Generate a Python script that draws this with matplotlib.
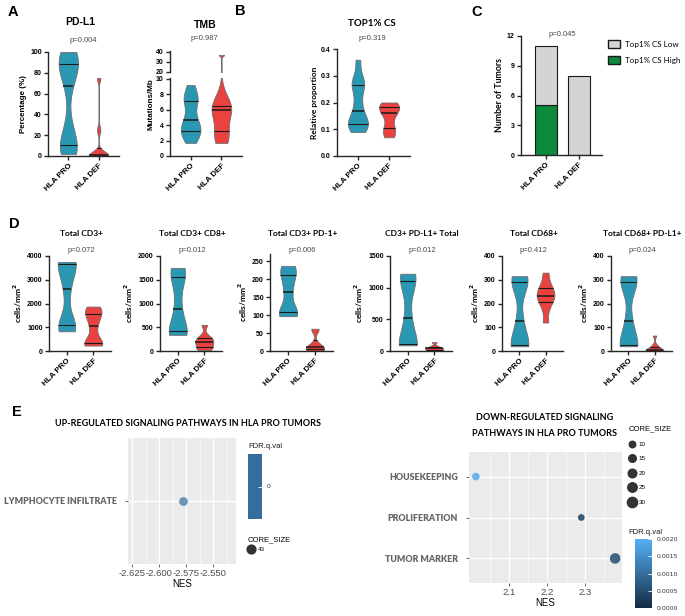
import numpy as np
import matplotlib
matplotlib.use("Agg")
import matplotlib.pyplot as plt
from matplotlib import cbook, mlab
from matplotlib.colors import LinearSegmentedColormap, Normalize
from matplotlib.cm import ScalarMappable
from matplotlib.patches import Patch
from matplotlib.lines import Line2D

groups = ["HLA PRO", "HLA DEF"]

# panel A
pdl1_pro = [2, 6, 10, 12, 30, 67, 82, 87, 90, 96, 100]
pdl1_def = [0, 0, 0, 0, 1, 2, 25, 75]
tmb_pro = [1.7, 2.5, 3.2, 3.4, 3.8, 4.6, 5.5, 7.0, 7.3, 8.0, 9.2]
tmb_def = [1.7, 2.5, 3.5, 5.8, 6.0, 6.1, 7.5, 37]

# panel B
top1_pro = [0.09, 0.11, 0.12, 0.12, 0.14, 0.17, 0.21, 0.26, 0.27, 0.29, 0.36]
top1_def = [0.07, 0.09, 0.11, 0.15, 0.17, 0.18, 0.19, 0.20]

# panel C
cs_high = [5, 0]
cs_low = [6, 8]

# panel D
d_titles = ["Total CD3+", "Total CD3+ CD8+", "Total CD3+ PD-1+",
            "CD3+ PD-L1+ Total", "Total CD68+", "Total CD68+ PD-L1+"]
d_pvals = ["p=0.072", "p=0.012", "p=0.006", "p=0.012", "p=0.412", "p=0.024"]
d_pro = [[830, 1050, 1100, 2620, 3600, 3700, 3750],
         [340, 400, 450, 880, 1400, 1700, 1750],
         [97, 105, 112, 163, 200, 225, 237],
         [90, 100, 130, 520, 1000, 1200, 1220],
         [20, 22, 28, 125, 280, 300, 315],
         [20, 22, 28, 125, 280, 300, 315]]
d_def = [[230, 300, 400, 1050, 1500, 1650, 1870],
         [20, 60, 100, 180, 210, 250, 320, 550],
         [0, 2, 5, 8, 12, 20, 58, 62],
         [0, 10, 25, 35, 45, 55, 80, 140],
         [120, 180, 215, 225, 240, 260, 280, 330],
         [0, 1, 2, 4, 6, 15, 25, 65]]
d_ymax = [4000, 2000, 270, 1500, 400, 400]
d_step = [1000, 500, 50, 500, 100, 100]

# panel E
up_paths = ["LYMPHOCYTE INFILTRATE"]
up_nes = [-2.578]
up_fdr = [0.0]
up_core = [43]
down_paths = ["HOUSEKEEPING", "PROLIFERATION", "TUMOR MARKER"]
down_nes = [2.013, 2.290, 2.379]
down_fdr = [0.0019, 0.0003, 0.0005]
down_core = [15, 11, 32]
size_breaks = [10, 15, 20, 25, 30]

TEAL = "#2a98b3"
RED = "#e9423f"
ARIAL = "Liberation Sans"
CALI = "Lato"

W, H = 685, 616
fig = plt.figure(figsize=(W / 100, H / 100), dpi=100)


def box(x0, y0, x1, y1):
    return fig.add_axes([x0 / W, 1 - y1 / H, (x1 - x0) / W, (y1 - y0) / H])


def ftext(x, y, s, **kw):
    kw.setdefault("ha", "center")
    kw.setdefault("va", "center")
    fig.text(x / W, 1 - y / H, s, **kw)


def prism(ax, xlabels=True):
    for s in ["top", "right"]:
        ax.spines[s].set_visible(False)
    for s in ["left", "bottom"]:
        ax.spines[s].set_linewidth(1.0)
        ax.spines[s].set_color("#262626")
    ax.tick_params(direction="out", length=3, width=1, labelsize=5, pad=1.5, color="#262626")
    for t in ax.get_yticklabels():
        t.set_fontweight("bold")
        t.set_family(ARIAL)
    ax.set_xticks([0, 1])
    if xlabels:
        ax.set_xticklabels(groups, rotation=45, ha="right", rotation_mode="anchor",
                           fontsize=5.8, fontweight="bold", family=ARIAL)
    ax.set_xlim(-0.67, 1.67)


def violin(ax, data, pos, color, bw=0.4, width=0.64):
    def kde(X, coords):
        return mlab.GaussianKDE(X, bw).evaluate(coords)
    st = cbook.violin_stats(np.asarray(data, float), kde, points=300)[0]
    parts = ax.violin([st], positions=[pos], widths=width, showmeans=False,
                      showextrema=False, showmedians=False)
    body = parts["bodies"][0]
    body.set_facecolor(color)
    body.set_edgecolor("#6e6e6e")
    body.set_linewidth(0.6)
    body.set_alpha(1)
    q1, med, q3 = np.percentile(data, [25, 50, 75])
    vmax = st["vals"].max()
    for q, lw in ((q1, 0.8), (med, 1.1), (q3, 0.8)):
        hw = np.interp(q, st["coords"], st["vals"]) / vmax * width / 2
        ax.plot([pos - hw, pos + hw], [q, q], color="#1a1a1a", lw=lw,
                solid_capstyle="butt", zorder=3)


# ---- A: PD-L1
ax = box(48, 52, 119, 156)
violin(ax, pdl1_pro, 0, TEAL, 0.35)
violin(ax, pdl1_def, 1, RED, 0.15)
ax.set_ylim(0, 100)
ax.set_yticks(range(0, 101, 20))
prism(ax)
ax.set_ylabel("Percentage (%)", fontsize=5.8, fontweight="bold", family=ARIAL, labelpad=2)
ftext(80, 22, "PD-L1", fontsize=7.5, fontweight="bold", family=ARIAL)
ftext(83, 40, "p=0.004", fontsize=5.5, color="#4a4a4a", family=ARIAL)
ftext(13, 12, "A", fontsize=10.5, fontweight="bold", family=ARIAL)

# ---- A: TMB (broken axis)
axt = box(170, 51, 242, 72)
axb = box(170, 78, 242, 156)
for a in (axt, axb):
    violin(a, tmb_pro, 0, TEAL, 0.4)
    violin(a, tmb_def, 1, RED, 0.12)
axt.set_ylim(19.5, 41)
axt.set_yticks([20, 30, 40])
axb.set_ylim(0, 10.1)
axb.set_yticks(range(0, 11, 2))
prism(axb)
prism(axt, xlabels=False)
axt.spines["bottom"].set_visible(False)
axt.tick_params(axis="x", bottom=False, labelbottom=False)
ftext(151, 104, "Mutations/Mb", fontsize=5.8, fontweight="bold", family=ARIAL, rotation=90)
ftext(205, 25, "TMB", fontsize=7.5, fontweight="bold", family=ARIAL)
ftext(204, 39, "p=0.987", fontsize=5.5, color="#4a4a4a", family=ARIAL)

# ---- B
ax = box(337, 49, 410, 156)
violin(ax, top1_pro, 0, TEAL, 0.35)
violin(ax, top1_def, 1, RED, 0.45)
ax.set_ylim(0, 0.4)
ax.set_yticks([0, 0.1, 0.2, 0.3, 0.4])
prism(ax)
ax.set_ylabel("Relative proportion", fontsize=6, fontweight="bold", family=CALI, labelpad=2)
ftext(372, 23, "TOP1% CS", fontsize=7, fontweight="bold", family=CALI)
ftext(372, 39, "p=0.319", fontsize=5.5, color="#4a4a4a", family=ARIAL)
ftext(240, 11, "B", fontsize=10.5, fontweight="bold", family=ARIAL)

# ---- C
ax = box(521, 36, 602, 155)
x = np.arange(2)
ax.bar(x, cs_high, width=0.67, color="#0a8a3a", edgecolor="#1a1a1a", lw=0.8)
ax.bar(x, cs_low, width=0.67, bottom=cs_high, color="#d4d4d4", edgecolor="#1a1a1a", lw=0.8)
ax.set_ylim(0, 12)
ax.set_yticks(range(0, 13, 3))
prism(ax)
ax.set_xlim(-0.76, 1.7)
ax.set_ylabel("Number of Tumors", fontsize=6.3, fontweight="bold", family=CALI, labelpad=2)
ftext(562, 34, "p=0.045", fontsize=5.5, color="#4a4a4a", family=ARIAL)
ftext(477, 12, "C", fontsize=10.5, fontweight="bold", family=ARIAL)
fig.legend(handles=[Patch(facecolor="#d4d4d4", edgecolor="#1a1a1a", label="Top1% CS Low"),
                    Patch(facecolor="#0a8a3a", edgecolor="#1a1a1a", label="Top1% CS High")],
           loc="upper left", bbox_to_anchor=(605 / W, 1 - 37 / H), frameon=False,
           prop={"family": CALI, "size": 5.8}, handlelength=1.5, handleheight=1.1,
           handletextpad=0.6, labelspacing=1.05, borderaxespad=0)

# ---- D
d_x = [(49, 111), (160, 222), (270, 333), (390, 452), (502, 563), (611, 672)]
ftext(14, 224, "D", fontsize=10.5, fontweight="bold", family=ARIAL)
for i in range(6):
    x0, x1 = d_x[i]
    top = 256 if d_ymax[i] != 270 else 254
    ax = box(x0, top, x1, 351)
    violin(ax, d_pro[i], 0, TEAL, 0.4, 0.68)
    violin(ax, d_def[i], 1, RED, 0.4, 0.68)
    ax.set_ylim(0, d_ymax[i])
    ax.set_yticks(np.arange(0, d_ymax[i] + 1, d_step[i]))
    prism(ax)
    ax.set_ylabel(r"cells/mm$^\mathbf{2}$", fontsize=6, fontweight="bold", family=CALI, labelpad=2)
    cx = (x0 + x1) / 2 + 1
    ftext(cx, 233, d_titles[i], fontsize=6, fontweight="bold", family=CALI)
    ftext(cx, 250, d_pvals[i], fontsize=5.5, color="#4a4a4a", family=ARIAL)

# ---- E
cmap = LinearSegmentedColormap.from_list("gg", ["#132B43", "#56B1F7"])
norm = Normalize(0, 0.002)


def dot_size(v, lo, hi):
    t = 0.5 if hi == lo else (np.asarray(v, float) - lo) / (hi - lo)
    return 22 + t * (58 - 22)


def gg(ax):
    ax.set_facecolor("#EBEBEB")
    for s in ax.spines.values():
        s.set_visible(False)
    ax.grid(which="major", color="white", lw=0.9)
    ax.grid(which="minor", color="white", lw=0.45)
    ax.set_axisbelow(True)
    ax.tick_params(which="major", length=2, width=0.6, color="#4d4d4d", pad=1.5)
    ax.tick_params(which="minor", length=0)
    for t in ax.get_xticklabels():
        t.set_fontsize(6.8)
        t.set_color("#4d4d4d")
        t.set_family(ARIAL)
    for t in ax.get_yticklabels():
        t.set_fontsize(6.4)
        t.set_color("#666666")
        t.set_fontweight("heavy")
        t.set_family(CALI)
    ax.tick_params(axis="y", pad=6)
    ax.set_xlabel("NES", fontsize=7, family=ARIAL, labelpad=0.5)


ftext(17, 412, "E", fontsize=10.5, fontweight="bold", family=ARIAL)

# left: up-regulated
ax = box(128, 438, 236, 564)
ax.scatter(up_nes, np.arange(len(up_paths)) + 1, s=dot_size(up_core, min(up_core), max(up_core)),
           color=cmap(0.5), alpha=0.7, lw=0)
ax.set_xlim(-2.629, -2.529)
ax.set_ylim(0.4, len(up_paths) + 0.6)
ax.set_xticks([-2.625, -2.600, -2.575, -2.550])
ax.set_xticklabels(["%.3f" % v for v in [-2.625, -2.600, -2.575, -2.550]])
ax.set_xticks([-2.6125, -2.5875, -2.5625, -2.5375], minor=True)
ax.set_yticks(np.arange(len(up_paths)) + 1, up_paths)
gg(ax)
ftext(188, 423, "UP-REGULATED SIGNALING PATHWAYS IN HLA PRO TUMORS", fontsize=6.5,
      fontweight="bold", family=CALI)

cax = box(248, 454, 262, 519)
cax.set_facecolor(cmap(0.5))
for s in cax.spines.values():
    s.set_visible(False)
cax.set_xticks([])
cax.set_ylim(-1, 1)
cax.yaxis.tick_right()
cax.set_yticks(up_fdr, ["%g" % v for v in up_fdr])
cax.tick_params(axis="y", direction="in", length=3, width=0.6, color="white",
                labelsize=4.5, labelcolor="#333333", pad=3)
ftext(248, 446, "FDR.q.val", fontsize=5.5, ha="left", family=ARIAL, color="#1a1a1a")
fig.legend(handles=[Line2D([], [], ls="", marker="o", color="#333333",
                           markersize=np.sqrt(dot_size(up_core[0], 1, 1)), label=str(up_core[0]))],
           title="CORE_SIZE", loc="upper left", bbox_to_anchor=(245 / W, 1 - 534 / H),
           frameon=False, prop={"family": ARIAL, "size": 4.5},
           title_fontproperties={"family": ARIAL, "size": 5.5}, alignment="left",
           handlelength=1.0, handletextpad=0.6, borderaxespad=0)

# right: down-regulated
ax = box(469, 452, 622, 583)
ypos = np.arange(len(down_paths))[::-1] + 1
ax.scatter(down_nes, ypos, s=dot_size(down_core, 10, 32), c=down_fdr, cmap=cmap, norm=norm,
           alpha=0.85, lw=0)
ax.set_xlim(1.995, 2.397)
ax.set_ylim(0.4, len(down_paths) + 0.6)
ax.set_xticks([2.1, 2.2, 2.3])
ax.set_xticks([2.05, 2.15, 2.25, 2.35], minor=True)
ax.set_yticks(ypos, down_paths)
gg(ax)
ftext(545, 418, "DOWN-REGULATED SIGNALING", fontsize=6.5, fontweight="bold", family=CALI)
ftext(545, 433, "PATHWAYS IN HLA PRO TUMORS", fontsize=6.5, fontweight="bold", family=CALI)

fig.legend(handles=[Line2D([], [], ls="", marker="o", color="#333333",
                           markersize=np.sqrt(dot_size(v, 10, 32)), label=str(v))
                    for v in size_breaks],
           title="CORE_SIZE", loc="upper left", bbox_to_anchor=(626 / W, 1 - 423 / H),
           frameon=False, prop={"family": ARIAL, "size": 4.5},
           title_fontproperties={"family": ARIAL, "size": 5.5}, alignment="left",
           handlelength=1.0, handletextpad=0.6, labelspacing=1.45, borderaxespad=0)

cax = box(635, 539, 652, 608)
cb = fig.colorbar(ScalarMappable(norm=norm, cmap=cmap), cax=cax)
cb.outline.set_visible(False)
cb.set_ticks([0, 0.0005, 0.001, 0.0015, 0.002])
cb.set_ticklabels(["%.4f" % v for v in [0, 0.0005, 0.001, 0.0015, 0.002]])
cax.tick_params(direction="in", length=3, width=0.6, color="white", labelsize=4.5,
                labelcolor="#333333", pad=3)
ftext(628, 533, "FDR.q.val", fontsize=5.5, ha="left", family=ARIAL, color="#1a1a1a")

fig.savefig("out.png", dpi=100)
